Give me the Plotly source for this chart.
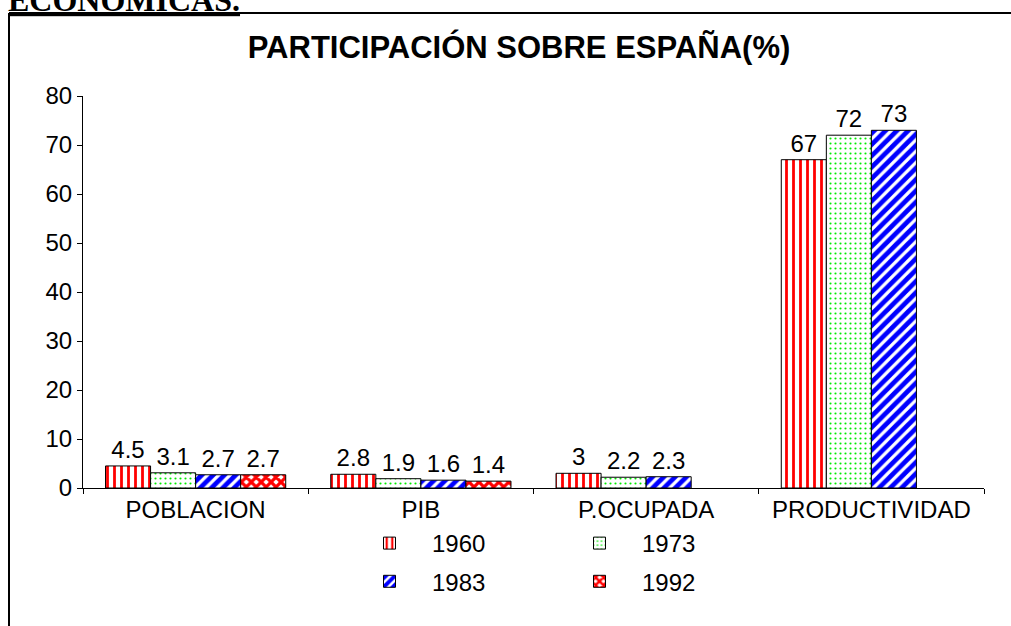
import plotly.graph_objects as go

categories = ["POBLACION", "PIB", "P.OCUPADA", "PRODUCTIVIDAD"]
years = ["1960", "1973", "1983", "1992"]
v1960 = [4.5, 2.8, 3, 67]
v1973 = [3.1, 1.9, 2.2, 72]
v1983 = [2.7, 1.6, 2.3, 73]
v1992 = [2.7, 1.4, None, None]
y_ticks = [0, 10, 20, 30, 40, 50, 60, 70, 80]

W, H = 1011, 626
L, R, T, B = 83, 27, 96, 138
pw, ph = W - L - R, H - T - B

def px_x(x):
    return (x - L) / pw

def px_y(y):
    return (H - B - y) / ph

FONT = "Liberation Sans, Arial, sans-serif"

styles = [
    dict(shape="|", fgcolor="#ff0000", bgcolor="white", size=7, solidity=0.4, fgopacity=1),
    dict(shape=".", fgcolor="#00ee00", bgcolor="white", size=5, solidity=0.15, fgopacity=1),
    dict(shape="/", fgcolor="#0000ff", bgcolor="white", size=8, solidity=0.6, fgopacity=1),
    dict(shape="x", fgcolor="#ff0000", bgcolor="white", size=7, solidity=0.7, fgopacity=1),
]
legends = ["legend", "legend2", "legend", "legend2"]
series = [v1960, v1973, v1983, v1992]

fig = go.Figure()
for name, vals, st, lg in zip(years, series, styles, legends):
    fig.add_trace(go.Bar(
        x=categories, y=vals, name=name,
        marker=dict(pattern=st, color="white", line=dict(color="black", width=1)),
        texttemplate="%{y}", textposition="outside",
        textfont=dict(family=FONT, size=24, color="black"),
        cliponaxis=False, constraintext="none",
        legend=lg, legendgroup=name,
    ))

fig.update_layout(
    width=W, height=H,
    margin=dict(l=L, r=R, t=T, b=B),
    paper_bgcolor="white", plot_bgcolor="white",
    barmode="group", bargap=0.2, bargroupgap=0,
    font=dict(family=FONT, size=24, color="black"),
    title=dict(text="<b>PARTICIPACIÓN SOBRE ESPAÑA(%)</b>",
               font=dict(family=FONT, size=31, color="black"),
               x=px_x(519), xref="paper", xanchor="center",
               y=1 - 47 / H, yref="container", yanchor="middle"),
    xaxis=dict(showline=True, linecolor="black", linewidth=1,
               ticks="outside", ticklen=5, tickcolor="black",
               tickson="boundaries", showgrid=False,
               tickfont=dict(family=FONT, size=24, color="black")),
    yaxis=dict(range=[0, 80], tickvals=y_ticks, showline=True, linecolor="black",
               linewidth=1, ticks="outside", ticklen=5, tickcolor="black",
               showgrid=False, zeroline=False,
               tickfont=dict(family=FONT, size=24, color="black")),
    legend=dict(x=px_x(347), y=px_y(521), xanchor="left", yanchor="top",
                orientation="v", tracegroupgap=4, itemwidth=75,
                font=dict(family=FONT, size=24, color="black")),
    legend2=dict(x=px_x(557), y=px_y(521), xanchor="left", yanchor="top",
                 orientation="v", tracegroupgap=4, itemwidth=75,
                 font=dict(family=FONT, size=24, color="black")),
    showlegend=True,
)

# document frame
fig.add_shape(type="line", xref="paper", yref="paper",
              x0=px_x(9), x1=px_x(W + 5), y0=px_y(13), y1=px_y(13),
              line=dict(color="black", width=2))
fig.add_shape(type="line", xref="paper", yref="paper",
              x0=px_x(9), x1=px_x(9), y0=px_y(13), y1=px_y(H + 5),
              line=dict(color="black", width=2))

fig.add_annotation(text="<b><u>ECONÓMICAS.</u></b>", xref="paper", yref="paper",
                   x=px_x(6), y=px_y(20), xanchor="left", yanchor="bottom",
                   showarrow=False,
                   font=dict(family="Liberation Serif, Times New Roman, serif", size=32, color="black"))

fig.write_html("out.html", post_script="document.body.style.margin='0';",
               config={"displayModeBar": False})
